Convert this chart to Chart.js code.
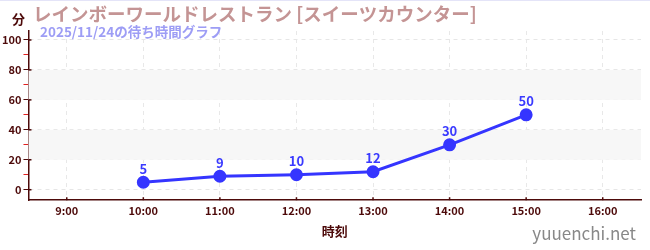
<!DOCTYPE html>
<html>
<head>
<meta charset="utf-8">
<script src="https://cdn.jsdelivr.net/npm/chart.js@4/dist/chart.umd.min.js"></script>
<style>
  body { margin: 0; background: #fff; }
  #wrap { width: 650px; height: 250px; position: relative; border-top: 1px solid #e4e4f8; box-sizing: border-box; }
</style>
</head>
<body>
<div id="wrap"><canvas id="chart"></canvas></div>
<script>
// wait times for the day
const times = ["10:00", "11:00", "12:00", "13:00", "14:00", "15:00"];
const waits = [5, 9, 10, 12, 30, 50];
const xTicks = ["9:00", "10:00", "11:00", "12:00", "13:00", "14:00", "15:00", "16:00"];

const titleText = "レインボーワールドレストラン [スイーツカウンター]";
const subText = "2025/11/24の待ち時間グラフ";
const maroon = "#4d0a0a";
const font = "'Noto Sans CJK JP', 'Noto Sans', sans-serif";

const toHour = s => { const p = s.split(":"); return +p[0] + +p[1] / 60; };
const points = times.map((t, i) => ({ x: toHour(t), y: waits[i] }));

// light bands behind the plot
const bands = {
  id: "bands",
  beforeDatasetsDraw(chart) {
    const { ctx, chartArea: a, scales: { y } } = chart;
    ctx.save();
    ctx.fillStyle = "#f7f7f7";
    [[20, 40], [60, 80]].forEach(([lo, hi]) => {
      ctx.fillRect(a.left, y.getPixelForValue(hi), a.right - a.left, y.getPixelForValue(lo) - y.getPixelForValue(hi));
    });
    ctx.restore();
  }
};

const labels = {
  id: "labels",
  afterDraw(chart) {
    const { ctx, chartArea: a, scales: { x, y } } = chart;
    ctx.save();
    // small marks on the inner side of both axes
    ctx.strokeStyle = maroon;
    ctx.lineWidth = 1.5;
    y.ticks.forEach(t => {
      if (t.value % 20 !== 0) return;
      const py = y.getPixelForValue(t.value);
      ctx.beginPath(); ctx.moveTo(a.left, py); ctx.lineTo(a.left + 3, py); ctx.stroke();
    });
    x.ticks.forEach(t => {
      const px = x.getPixelForValue(t.value);
      ctx.beginPath(); ctx.moveTo(px, a.bottom); ctx.lineTo(px, a.bottom - 3); ctx.stroke();
    });

    ctx.textAlign = "center";
    ctx.textBaseline = "bottom";
    ctx.fillStyle = "#3a3aff";
    ctx.font = "bold 13px " + font;
    chart.getDatasetMeta(0).data.forEach((p, i) => {
      ctx.fillText(waits[i], p.x, p.y - 7);
    });
    // headings
    ctx.textAlign = "left";
    ctx.textBaseline = "middle";
    ctx.fillStyle = "#c49494";
    ctx.font = "bold 18.5px " + font;
    ctx.fillText(titleText, 33, 13);
    ctx.fillStyle = "#9d9df5";
    ctx.font = "bold 13.5px " + font;
    ctx.fillText(subText, 40, 31);
    ctx.fillStyle = maroon;
    ctx.font = "bold 13px " + font;
    ctx.fillText("分", 12, 18);
    ctx.fillStyle = "#888";
    ctx.font = "17px " + font;
    ctx.textAlign = "right";
    ctx.fillText("yuuenchi.net", 636, 233);
    ctx.restore();
  }
};

new Chart(document.getElementById("chart"), {
  type: "line",
  data: {
    datasets: [{
      data: points,
      borderColor: "#3535ff",
      backgroundColor: "#3535ff",
      borderWidth: 3,
      pointRadius: 5,
      pointHoverRadius: 5
    }]
  },
  options: {
    responsive: true,
    maintainAspectRatio: false,
    animation: false,
    layout: { padding: { top: 30, right: 9, left: 0, bottom: 11 } },
    plugins: { legend: { display: false }, tooltip: { enabled: false } },
    scales: {
      x: {
        type: "linear",
        min: 8.5,
        max: 16.5,
        afterBuildTicks: s => { s.ticks = xTicks.map(t => ({ value: toHour(t) })); },
        ticks: {
          callback: v => xTicks.find(t => toHour(t) === v) || "",
          color: maroon,
          font: { family: font, size: 11, weight: "bold" },
          padding: 4,
          maxRotation: 0
        },
        grid: { color: "#e8e8e8", drawTicks: false },
        border: { color: maroon, width: 1.5, dash: [4, 4] },
        title: {
          display: true,
          text: "時刻",
          color: maroon,
          font: { family: font, size: 13, weight: "bold" },
          padding: { top: 2, bottom: 0 }
        }
      },
      y: {
        min: -7,
        max: 106,
        afterBuildTicks: s => {
          const t = [];
          for (let v = 0; v <= 100; v += 10) t.push({ value: v });
          s.ticks = t;
        },
        ticks: {
          callback: v => (v % 20 === 0 ? v : ""),
          color: maroon,
          font: { family: font, size: 11, weight: "bold" },
          padding: 2
        },
        grid: {
          color: c => (c.tick && c.tick.value % 20 === 0 ? "#e6e6e6" : "rgba(0,0,0,0)"),
          tickColor: c => (c.tick && c.tick.value % 20 === 0 ? maroon : "#e02020"),
          tickLength: 5
        },
        border: { color: maroon, width: 1.5, dash: [4, 4] }
      }
    }
  },
  plugins: [bands, labels]
});
</script>
</body>
</html>
